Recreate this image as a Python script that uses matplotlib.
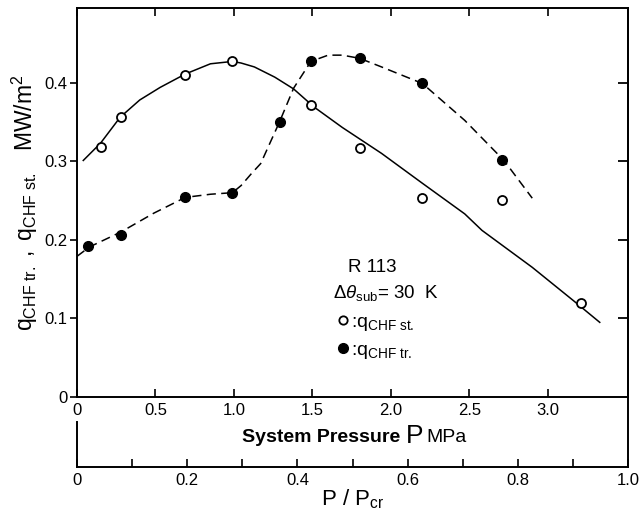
import numpy as np
import matplotlib
matplotlib.use("Agg")
import matplotlib.pyplot as plt
from matplotlib.lines import Line2D

plt.rcParams['font.family'] = ['Liberation Sans', 'DejaVu Sans']
plt.rcParams['mathtext.fontset'] = 'custom'
plt.rcParams['mathtext.rm'] = 'Liberation Sans'
plt.rcParams['mathtext.it'] = 'Liberation Sans:italic'

# measured points: steady CHF (open) and transient CHF (filled)
p_st = [0.15, 0.28, 0.69, 0.99, 1.49, 1.80, 2.20, 2.71, 3.21]
q_st = [0.318, 0.356, 0.410, 0.427, 0.371, 0.317, 0.253, 0.251, 0.120]
p_tr = [0.07, 0.28, 0.69, 0.99, 1.29, 1.49, 1.80, 2.20, 2.71]
q_tr = [0.192, 0.206, 0.255, 0.259, 0.350, 0.427, 0.431, 0.399, 0.301]

# hand-drawn fitting curves
curve_st_p = [0.04, 0.15, 0.275, 0.40, 0.53, 0.69, 0.85, 0.99, 1.045, 1.13, 1.26,
              1.38, 1.51, 1.69, 1.94, 2.20, 2.47, 2.58, 2.90, 3.16, 3.33]
curve_st_q = [0.301, 0.323, 0.356, 0.378, 0.394, 0.411, 0.424, 0.427, 0.425, 0.420,
              0.407, 0.392, 0.369, 0.343, 0.310, 0.272, 0.233, 0.212, 0.165, 0.123, 0.095]
curve_tr_p = [0.0, 0.08, 0.28, 0.49, 0.69, 0.85, 0.99, 1.045, 1.11, 1.17, 1.29, 1.38,
              1.49, 1.60, 1.69, 1.80, 1.94, 2.20, 2.47, 2.72, 2.90]
curve_tr_q = [0.179, 0.191, 0.210, 0.234, 0.254, 0.258, 0.260, 0.269, 0.284, 0.297,
              0.350, 0.393, 0.427, 0.435, 0.435, 0.431, 0.420, 0.399, 0.352, 0.301, 0.253]

x_ticks = [0, 0.5, 1.0, 1.5, 2.0, 2.5, 3.0]
x_labels = ['0', '0.5', '1.0', '1.5', '2.0', '2.5', '3.0']
y_ticks = [0, 0.1, 0.2, 0.3, 0.4]
y_labels = ['0', '0.1', '0.2', '0.3', '0.4']
r_ticks = [0, 0.2, 0.4, 0.6, 0.8, 1.0]
r_labels = ['0', '0.2', '0.4', '0.6', '0.8', '1.0']

fig = plt.figure(figsize=(6.4, 5.18), dpi=100)
W, H = 640, 518
ax = fig.add_axes([77 / W, 1 - 397 / H, (628 - 77) / W, (397 - 8) / H])

ax.plot(curve_st_p, curve_st_q, color='black', lw=1.1, zorder=2)
ax.plot(curve_tr_p, curve_tr_q, color='black', lw=1.1, ls=(0, (6, 3.5)), zorder=2)
ax.plot(p_st, q_st, 'o', ms=6.5, mfc='white', mec='black', mew=1.3, zorder=3)
ax.plot(p_tr, q_tr, 'o', ms=7, mfc='black', mec='black', zorder=3)

ax.set_xlim(0, 3.51)
ax.set_ylim(0, 0.495)
ax.set_xticks(x_ticks)
ax.set_xticklabels(x_labels, fontsize=12)
ax.set_yticks(y_ticks)
ax.set_yticklabels(y_labels, fontsize=12)
ax.tick_params(axis='x', direction='in', top=True, length=6, width=1.2, pad=4)
ax.tick_params(axis='y', direction='out', length=5, width=1.2, pad=2)
for s in ax.spines.values():
    s.set_linewidth(1.4)

# right side inner ticks
sec = ax.secondary_yaxis('right')
sec.set_yticks(y_ticks[1:])
sec.set_yticklabels([])
sec.tick_params(axis='y', direction='in', length=7, width=1.3, color='black')
sec.spines['right'].set_linewidth(1.4)

# x label in two parts: bold words, larger P
ax.text(0.586, -0.103, 'System Pressure', transform=ax.transAxes, fontsize=14,
        fontweight='bold', ha='right', va='center')
ax.text(0.596, -0.100, 'P', transform=ax.transAxes, fontsize=19, ha='left', va='center')
ax.text(0.634, -0.103, 'MPa', transform=ax.transAxes, fontsize=14, ha='left', va='center')

ax.set_ylabel('$\\mathregular{q_{CHF\\ tr.}\\ ,\\ q_{CHF\\ st.}}$   MW/m$^\\mathregular{2}$',
              fontsize=16.5, labelpad=3)

ax.text(1.88, 0.165, 'R 113', fontsize=13.5, ha='center', va='center')
ax.text(1.63, 0.132, '$\\mathit{\\Delta\\theta}_\\mathregular{sub}$= 30  K', fontsize=13.5,
        ha='left', va='center')
handles = [Line2D([], [], ls='none', marker='o', ms=6, mfc='white', mec='black', mew=1.3),
           Line2D([], [], ls='none', marker='o', ms=7, mfc='black', mec='black')]
ax.legend(handles, [':q$_\\mathregular{CHF\\ st.}$', ':q$_\\mathregular{CHF\\ tr.}$'],
          loc='upper left', bbox_to_anchor=(0.455, 0.241), frameon=False, fontsize=14,
          handlelength=0.6, handletextpad=0.1, labelspacing=0.45, borderpad=0)

# secondary scale P/Pcr
ax2 = fig.add_axes([77 / W, 1 - 467 / H, (628 - 77) / W, (467 - 397) / H])
ax2.patch.set_visible(False)
ax2.set_xlim(0, 1.0)
ax2.set_ylim(0, 1)
ax2.set_yticks([])
ax2.spines['top'].set_visible(False)
ax2.spines['left'].set_bounds(0, 45 / 70)
for s in ax2.spines.values():
    s.set_linewidth(1.4)
ax2.set_xticks(r_ticks)
ax2.set_xticklabels(r_labels, fontsize=12)
ax2.set_xticks([0.1, 0.3, 0.5, 0.7, 0.9], minor=True)
ax2.tick_params(axis='x', which='both', direction='in', length=6, width=1.2, pad=4)
ax2.set_xlabel('P / P$_\\mathregular{cr}$', fontsize=16, labelpad=0)

fig.savefig('out.png', dpi=100)
